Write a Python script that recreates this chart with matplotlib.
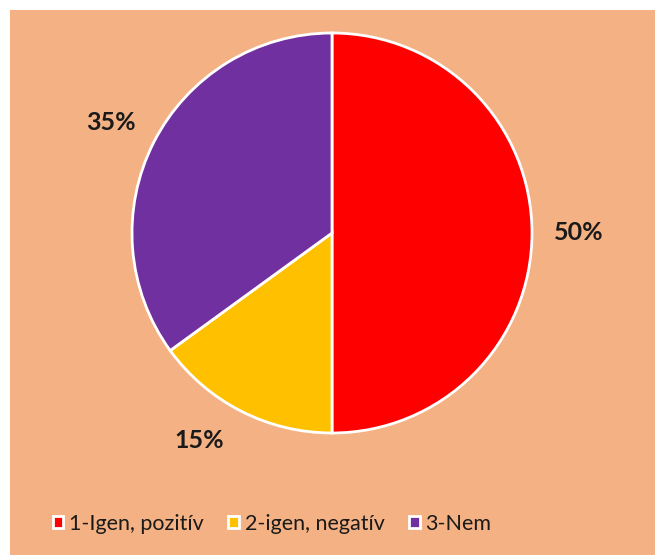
import matplotlib
matplotlib.use("Agg")
import numpy as np
import matplotlib.pyplot as plt
from matplotlib.patches import Rectangle

# answer categories and their shares (percent)
labels = ["1-Igen, pozitív", "2-igen, negatív", "3-Nem"]
shares = [50, 15, 35]
colors = ["#FF0000", "#FFC000", "#7030A0"]
# small angular shift (deg) of each percent label off the wedge middle
label_nudge = [0, -5.5, 0.5]

bg = "#F4B183"
W, H = 655, 558

fig = plt.figure(figsize=(W / 100, H / 100), dpi=100)
fig.patch.set_facecolor("white")

# chart area background
fig.patches.append(Rectangle((10 / W, 3 / H), 645 / W, 545 / H,
                             transform=fig.transFigure, facecolor=bg,
                             edgecolor="none", zorder=-5))

# pie centred at (332, 233) px with a 200 px radius
ax = fig.add_axes([132 / W, (H - 433) / H, 400 / W, 400 / H])
ax.set_facecolor("none")
ax.set_zorder(2)

wedges, _ = ax.pie(
    shares, colors=colors, startangle=90, counterclock=False,
    wedgeprops=dict(edgecolor="white", linewidth=2),
)

# percent labels just outside each wedge
for w, val, nudge in zip(wedges, shares, label_nudge):
    ang = np.deg2rad((w.theta1 + w.theta2) / 2 + nudge)
    ax.text(1.233 * np.cos(ang), 1.233 * np.sin(ang), f"{val}%",
            ha="center", va="center", fontsize=18, fontweight="bold",
            color="#1a1a1a", family="Lato", clip_on=False)

ax.set_xlim(-1, 1)
ax.set_ylim(-1, 1)
ax.set_aspect("equal")

leg = fig.legend(wedges, labels, loc="center", bbox_to_anchor=(272 / W, 34 / H),
                 ncol=3, frameon=False, handlelength=0.5, handleheight=0.5,
                 handletextpad=0.25, columnspacing=1.15,
                 prop=dict(family="Lato", size=15.5))
for txt in leg.get_texts():
    txt.set_color("#1a1a1a")

fig.savefig("out.png", dpi=100, facecolor="white")
